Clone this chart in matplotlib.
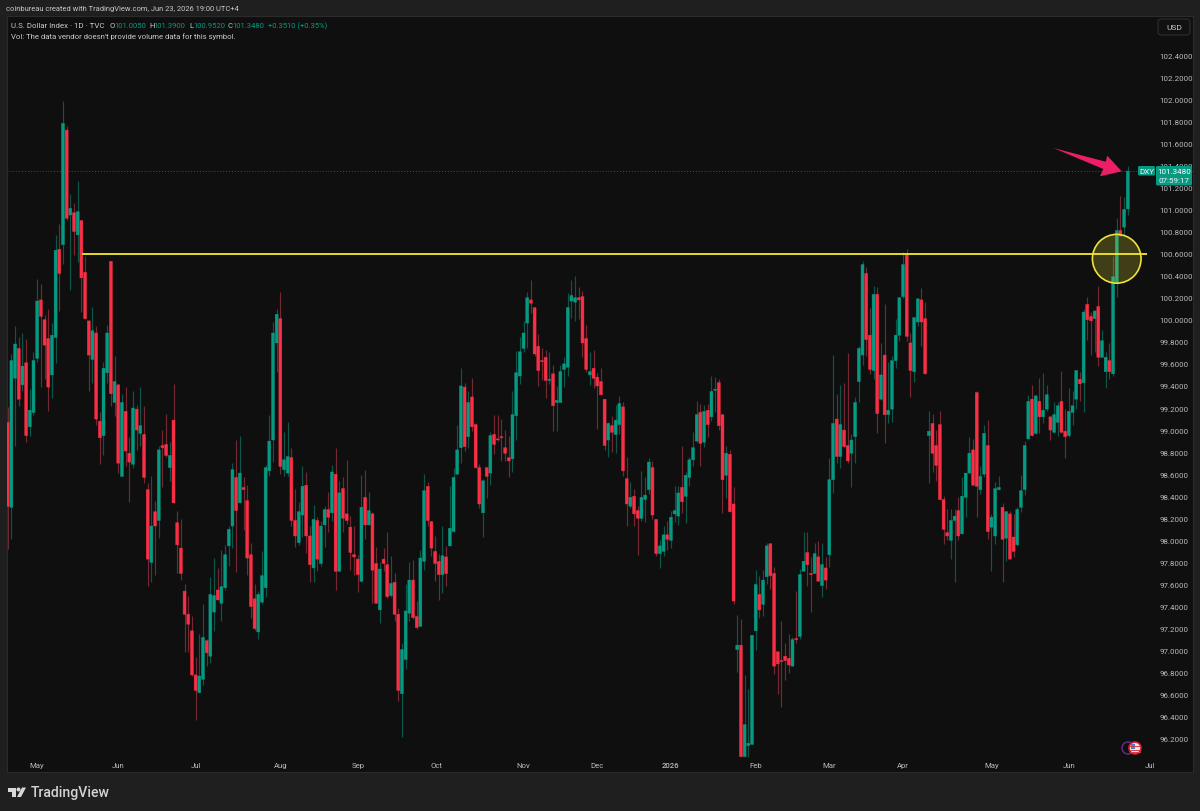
import numpy as np
import matplotlib.pyplot as plt
from matplotlib.patches import Circle, Ellipse, FancyBboxPatch, Polygon, Rectangle

plt.rcParams['font.family'] = ['Roboto', 'DejaVu Sans']

# daily U.S. Dollar Index candles
opens = [99.07, 98.30, 99.47, 99.74, 99.41, 99.61, 99.03, 99.16, 99.65, 100.18,
         100.00, 99.83, 99.50, 99.84, 100.64, 100.68, 101.72, 100.95, 100.97, 100.77,
         100.90, 100.43, 99.99, 99.64, 99.88, 99.08, 98.95, 99.52, 100.53, 99.25,
         99.41, 98.58, 99.17, 98.79, 98.69, 99.19, 98.97, 98.96, 98.46, 97.80,
         98.26, 98.18, 98.86, 98.87, 98.66, 99.09, 98.16, 97.93, 97.54, 97.33,
         97.18, 96.78, 96.62, 96.74, 97.09, 96.95, 97.35, 97.55, 97.43, 97.57,
         97.95, 98.13, 98.57, 98.34, 98.48, 98.36, 97.87, 97.47, 97.17, 97.44,
         97.57, 98.63, 98.91, 99.79, 100.01, 98.64, 98.61, 98.75, 98.18, 97.98,
         98.23, 98.50, 98.04, 97.75, 98.18, 97.79, 98.14, 98.28, 98.25, 98.60,
         97.72, 98.47, 98.24, 98.12, 97.87, 97.83, 97.63, 98.39, 98.14, 98.24,
         97.79, 97.37, 97.83, 97.78, 97.50, 97.62, 97.33, 96.61, 96.92, 97.34,
         97.64, 97.31, 97.22, 97.81, 98.49, 98.17, 97.90, 97.81, 97.69, 97.85,
         97.95, 98.08, 98.60, 98.84, 99.39, 98.94, 99.30, 99.05, 98.66, 98.25,
         98.66, 98.61, 98.96, 98.92, 98.94, 98.84, 98.75, 98.74, 99.13, 99.49,
         99.74, 99.97, 100.18, 100.11, 99.76, 99.63, 99.66, 99.45, 99.51, 99.25,
         99.25, 99.55, 99.57, 100.17, 100.16, 100.20, 100.21, 99.83, 99.50, 99.56,
         99.48, 99.44, 99.28, 98.91, 99.04, 98.96, 99.05, 99.21, 98.56, 98.31,
         98.40, 98.27, 98.20, 98.37, 98.46, 98.66, 98.19, 97.88, 97.90, 98.05,
         98.00, 98.24, 98.22, 98.48, 98.40, 98.57, 98.73, 98.90, 99.16, 98.89,
         99.18, 99.12, 99.36, 99.43, 99.14, 98.59, 98.78, 98.33, 97.01, 97.05,
         96.04, 96.14, 96.15, 97.18, 97.51, 97.42, 97.67, 97.97, 97.70, 96.99,
         96.91, 96.95, 96.93, 96.86, 97.11, 97.13, 97.72, 97.89, 97.70, 97.70,
         97.85, 97.59, 97.75, 97.87, 98.55, 99.10, 98.76, 99.00, 98.86, 98.79,
         98.94, 99.44, 99.68, 100.42, 99.86, 99.54, 100.23, 99.28, 99.68, 99.14,
         99.19, 99.63, 99.86, 100.21, 100.59, 99.79, 99.53, 99.98, 100.18, 100.01,
         98.95, 99.06, 98.86, 99.05, 98.37, 98.07, 98.00, 98.18, 98.27, 98.06,
         98.39, 98.61, 98.82, 99.34, 98.46, 98.60, 98.86, 98.12, 98.04, 98.46,
         98.30, 98.02, 98.24, 98.03, 97.96, 98.30, 98.46, 98.92, 99.28, 98.97,
         99.26, 99.12, 99.19, 99.12, 98.98, 99.07, 99.26, 98.99, 98.95, 99.16,
         99.28, 99.46, 99.43, 100.14, 100.03, 100.01, 100.12, 99.66, 99.53, 99.63,
         99.51, 100.33, 100.81, 100.84, 101.005]
closes = [98.31, 99.63, 99.78, 99.28, 99.58, 98.95, 99.18, 99.63, 100.17, 100.03,
          99.77, 99.39, 99.86, 100.63, 100.42, 101.78, 100.92, 101.01, 100.80, 100.98,
          100.38, 100.01, 99.68, 99.90, 99.10, 98.93, 99.56, 99.88, 99.33, 99.44,
          98.70, 99.25, 98.81, 98.71, 99.20, 99.00, 99.04, 98.57, 97.83, 98.13,
          98.13, 98.82, 98.84, 98.77, 98.77, 98.34, 97.96, 97.70, 97.33, 97.24,
          96.78, 96.64, 96.77, 97.12, 96.98, 97.51, 97.50, 97.46, 97.58, 97.87,
          98.10, 98.64, 98.27, 98.61, 98.46, 97.84, 97.40, 97.20, 97.51, 97.68,
          98.66, 98.90, 99.88, 100.05, 98.67, 98.73, 98.76, 98.18, 98.04, 98.26,
          98.49, 98.04, 97.78, 98.19, 97.83, 98.13, 98.28, 98.21, 98.62, 97.72,
          98.43, 98.20, 98.18, 97.89, 97.85, 97.69, 98.30, 98.14, 98.27, 97.73,
          97.43, 97.74, 97.79, 97.49, 97.61, 97.33, 96.64, 97.01, 97.36, 97.64,
          97.30, 97.21, 97.84, 98.45, 98.18, 97.93, 97.79, 97.69, 97.86, 97.70,
          98.11, 98.57, 98.82, 99.40, 98.85, 99.25, 99.03, 98.66, 98.33, 98.54,
          98.58, 98.95, 98.87, 98.91, 98.93, 98.79, 98.72, 99.14, 99.52, 99.71,
          99.88, 100.20, 100.15, 99.69, 99.54, 99.62, 99.45, 99.46, 99.22, 99.27,
          99.53, 99.60, 100.11, 100.22, 100.20, 100.18, 99.79, 99.55, 99.53, 99.47,
          99.40, 99.32, 98.86, 99.06, 98.98, 99.09, 99.24, 98.63, 98.33, 98.39,
          98.24, 98.20, 98.39, 98.41, 98.71, 98.23, 97.88, 97.95, 98.05, 98.01,
          98.21, 98.27, 98.43, 98.35, 98.59, 98.73, 98.84, 99.14, 98.88, 99.17,
          99.05, 99.35, 99.37, 99.04, 98.55, 98.79, 98.26, 97.45, 97.05, 96.04,
          96.33, 96.16, 97.14, 97.60, 97.37, 97.64, 97.95, 97.68, 96.86, 96.88,
          96.90, 96.91, 96.87, 97.10, 97.10, 97.69, 97.81, 97.78, 97.69, 97.88,
          97.63, 97.78, 97.64, 98.55, 99.06, 98.76, 99.05, 98.85, 98.72, 98.91,
          99.25, 99.74, 100.50, 99.82, 99.55, 100.23, 99.15, 99.50, 99.14, 99.18,
          99.63, 99.86, 100.20, 100.50, 99.85, 99.54, 100.02, 100.19, 99.98, 99.51,
          98.99, 98.79, 98.68, 98.37, 98.10, 98.04, 98.18, 98.22, 98.04, 98.40,
          98.61, 98.79, 98.50, 98.49, 98.58, 98.97, 98.08, 98.21, 98.47, 98.48,
          98.01, 98.26, 97.83, 97.90, 98.28, 98.45, 98.86, 99.26, 98.95, 99.31,
          99.12, 99.18, 99.32, 99.00, 99.14, 99.22, 98.98, 98.94, 99.17, 99.22,
          99.54, 99.42, 100.07, 100.00, 99.99, 100.08, 99.66, 99.81, 99.66, 99.53,
          100.39, 100.81, 100.76, 101.00, 101.348]
highs = [99.21, 99.69, 99.94, 99.84, 99.88, 99.83, 99.37, 99.71, 100.37, 100.32,
         100.04, 100.10, 99.97, 100.77, 100.87, 101.98, 101.76, 101.14, 101.06, 101.26,
         100.90, 100.58, 99.99, 100.12, 99.94, 99.16, 99.62, 99.95, 100.53, 99.67,
         99.42, 99.33, 99.39, 98.94, 99.35, 99.23, 99.39, 99.22, 98.52, 98.58,
         98.36, 98.86, 99.00, 99.15, 98.89, 99.42, 98.27, 98.19, 97.60, 97.50,
         97.31, 96.94, 97.15, 97.42, 97.11, 97.67, 97.84, 97.75, 97.91, 97.96,
         98.13, 98.70, 98.91, 98.95, 98.57, 98.50, 97.98, 97.60, 97.54, 97.90,
         98.68, 99.14, 99.98, 100.10, 100.25, 98.98, 99.07, 98.84, 98.47, 98.35,
         98.67, 98.62, 98.13, 98.32, 98.21, 98.18, 98.31, 98.44, 98.68, 98.84,
         98.54, 98.57, 98.73, 98.22, 98.13, 97.87, 98.59, 98.64, 98.44, 98.26,
         97.94, 97.80, 97.93, 98.08, 97.86, 97.70, 97.39, 97.07, 97.60, 97.80,
         97.82, 97.45, 97.91, 98.60, 98.53, 98.18, 98.04, 97.88, 98.13, 97.95,
         98.49, 98.66, 99.05, 99.56, 99.43, 99.35, 99.47, 99.06, 98.69, 98.56,
         98.66, 98.98, 99.14, 99.14, 99.10, 99.00, 98.95, 99.35, 99.72, 99.84,
         99.99, 100.25, 100.36, 100.11, 99.87, 99.74, 99.73, 99.71, 99.59, 99.40,
         99.59, 99.66, 100.24, 100.36, 100.40, 100.30, 100.26, 99.95, 99.71, 99.73,
         99.52, 99.56, 99.28, 99.07, 99.13, 99.23, 99.31, 99.25, 98.76, 98.53,
         98.47, 98.31, 98.63, 98.57, 98.75, 98.72, 98.19, 98.00, 98.13, 98.18,
         98.27, 98.49, 98.49, 98.86, 98.62, 98.76, 98.98, 99.26, 99.24, 99.23,
         99.24, 99.49, 99.48, 99.46, 99.14, 98.86, 98.82, 98.48, 97.32, 97.29,
         96.78, 96.65, 97.14, 97.73, 97.68, 97.73, 97.98, 97.97, 97.76, 96.99,
         97.27, 97.07, 97.15, 97.12, 97.54, 97.74, 98.08, 98.08, 97.85, 97.98,
         97.99, 97.98, 97.85, 98.75, 99.68, 99.33, 99.41, 99.43, 99.70, 98.96,
         99.30, 99.76, 100.53, 100.48, 100.11, 100.31, 100.30, 99.79, 100.14, 99.62,
         99.67, 100.01, 100.21, 100.61, 100.64, 99.88, 100.02, 100.19, 100.29, 100.16,
         99.17, 99.15, 99.00, 99.17, 98.40, 98.28, 98.28, 98.28, 98.39, 98.57,
         98.61, 98.94, 98.92, 99.35, 98.67, 99.05, 99.09, 98.24, 98.53, 98.58,
         98.34, 98.27, 98.27, 98.24, 98.30, 98.59, 98.90, 99.32, 99.41, 99.32,
         99.47, 99.52, 99.41, 99.12, 99.25, 99.25, 99.54, 99.19, 99.38, 99.35,
         99.54, 99.53, 100.10, 100.21, 100.07, 100.08, 100.31, 99.91, 99.71, 99.79,
         100.58, 100.92, 101.12, 101.11, 101.39]
lows = [97.92, 98.01, 98.86, 99.22, 99.35, 98.89, 98.95, 99.14, 99.62, 99.39,
        99.46, 99.17, 99.29, 99.61, 100.08, 100.51, 100.90, 100.27, 100.59, 100.52,
        100.07, 100.01, 99.35, 99.43, 99.05, 98.69, 98.77, 99.43, 99.22, 99.13,
        98.61, 98.58, 98.67, 98.35, 98.66, 98.82, 98.86, 98.52, 97.59, 97.62,
        97.69, 98.02, 98.48, 98.76, 98.54, 98.34, 97.70, 97.64, 96.99, 96.99,
        96.77, 96.37, 96.62, 96.69, 96.86, 96.89, 97.18, 97.46, 97.27, 97.55,
        97.77, 97.93, 97.71, 98.34, 98.09, 97.69, 97.30, 97.19, 97.11, 97.42,
        97.49, 98.58, 98.71, 99.53, 98.60, 98.58, 98.58, 98.13, 97.94, 97.96,
        98.03, 97.89, 97.62, 97.62, 97.72, 97.77, 97.94, 98.08, 98.18, 97.55,
        97.72, 98.08, 98.15, 97.73, 97.69, 97.53, 97.62, 98.01, 98.14, 97.43,
        97.43, 97.25, 97.72, 97.48, 97.49, 97.27, 96.54, 96.22, 96.83, 97.27,
        97.29, 97.20, 97.22, 97.73, 98.13, 97.86, 97.63, 97.46, 97.52, 97.59,
        97.95, 98.08, 98.60, 98.70, 98.81, 98.84, 98.99, 98.66, 98.29, 98.03,
        98.38, 98.50, 98.78, 98.90, 98.72, 98.72, 98.57, 98.62, 98.91, 99.42,
        99.71, 99.74, 100.06, 99.67, 99.40, 99.45, 99.29, 99.42, 98.99, 98.99,
        99.25, 99.39, 99.49, 100.02, 99.99, 100.01, 99.66, 99.53, 99.41, 99.38,
        99.01, 99.32, 98.82, 98.76, 98.80, 98.79, 98.96, 98.58, 98.13, 98.29,
        98.13, 97.87, 98.18, 98.17, 98.42, 98.19, 97.86, 97.75, 97.86, 97.91,
        97.93, 98.17, 98.14, 98.25, 98.16, 98.49, 98.67, 98.89, 98.67, 98.85,
        98.94, 99.08, 99.16, 99.00, 98.25, 98.38, 98.26, 97.42, 96.81, 96.04,
        96.04, 96.04, 96.15, 97.01, 97.30, 97.31, 97.60, 97.56, 96.79, 96.61,
        96.49, 96.73, 96.80, 96.86, 97.07, 97.11, 97.72, 97.59, 97.35, 97.70,
        97.63, 97.49, 97.56, 97.76, 98.43, 98.70, 98.66, 98.85, 98.70, 98.48,
        98.70, 99.25, 99.59, 99.67, 99.51, 99.46, 98.97, 99.27, 98.88, 99.06,
        99.07, 99.56, 99.81, 100.20, 99.81, 99.30, 99.44, 99.94, 99.76, 99.51,
        98.52, 98.62, 98.54, 98.37, 97.97, 98.00, 97.83, 97.62, 98.00, 98.06,
        98.21, 98.61, 98.50, 98.21, 98.42, 98.57, 98.01, 97.72, 97.97, 98.46,
        97.62, 97.81, 97.83, 97.85, 97.95, 98.26, 98.41, 98.92, 98.95, 98.96,
        98.97, 99.06, 99.17, 98.91, 98.97, 98.95, 98.97, 98.75, 98.94, 99.05,
        99.19, 99.26, 99.16, 99.82, 99.68, 99.71, 99.58, 99.66, 99.38, 99.46,
        99.49, 100.21, 100.76, 100.76, 100.952]

price_ticks = [96.2, 96.4, 96.6, 96.8, 97.0, 97.2, 97.4, 97.6, 97.8, 98.0, 98.2, 98.4, 98.6,
               98.8, 99.0, 99.2, 99.4, 99.6, 99.8, 100.0, 100.2, 100.4, 100.6, 100.8,
               101.0, 101.2, 101.4, 101.6, 101.8, 102.0, 102.2, 102.4]
month_bars = [8, 30, 51, 74, 95, 116.5, 140, 160, 180, 203, 223, 243, 267, 288, 310]
month_labels = ['May', 'Jun', 'Jul', 'Aug', 'Sep', 'Oct', 'Nov', 'Dec', '2026',
                'Feb', 'Mar', 'Apr', 'May', 'Jun', 'Jul']
level = 100.60

BG = '#0f0f0f'
FRAME = '#1f1f1f'
UP = '#079a82'
DOWN = '#f92f45'
UP_WICK = '#0b5549'
DOWN_WICK = '#752832'
TEXT = '#b8bac0'
HEAD = '#c8c9cc'

opens, closes, highs, lows = map(np.array, (opens, closes, highs, lows))
x = np.arange(len(opens))
up = closes >= opens

fig = plt.figure(figsize=(12, 8.12), dpi=100, facecolor=FRAME)
ax = fig.add_axes([7 / 1200, 1 - 773 / 812, 1186 / 1200, 756 / 812], facecolor=BG)
ax.set_xlim(-0.19, 321.7)
ax.set_ylim(95.90, 102.754)
for s in ax.spines.values():
    s.set_color('#2b2b2b')
    s.set_linewidth(0.8)

ax.vlines(x[up], lows[up], highs[up], color=UP_WICK, lw=0.85, zorder=2)
ax.vlines(x[~up], lows[~up], highs[~up], color=DOWN_WICK, lw=0.85, zorder=2)
bars_up = ax.bar(x[up], (closes - opens)[up], bottom=opens[up], width=0.8, color=UP,
                 edgecolor=UP, linewidth=0.3, zorder=3)
bars_dn = ax.bar(x[~up], (opens - closes)[~up], bottom=closes[~up], width=0.8, color=DOWN,
                 edgecolor=DOWN, linewidth=0.3, zorder=3)
for b in list(bars_up) + list(bars_dn):
    b.set_snap(False)

# last price and the horizontal level
ax.axhline(closes[-1], color='#0e6b5c', lw=0.7, ls=(0, (1, 2)), zorder=1)
ax.plot([20.16, 309.2], [level, level], color='#f7ea2a', lw=1.3, zorder=4,
        solid_capstyle='butt')

# highlighted breakout circle
ax.add_patch(Ellipse((301.0, 100.553), 13.2, 0.4425, facecolor=(0.95, 0.9, 0.2, 0.22),
                     edgecolor='#eee23a', lw=1.2, zorder=5))

ax.yaxis.tick_right()
ax.set_yticks(price_ticks)
ax.set_yticklabels([f'{p:.4f}' for p in price_ticks], fontsize=5.7, color=TEXT)
ax.tick_params(axis='y', length=0, pad=-24)
ax.set_xticks(month_bars)
ax.set_xticklabels(month_labels, fontsize=5.6, color=TEXT)
ax.tick_params(axis='x', length=0, pad=-7)
for lab in ax.get_xticklabels():
    if lab.get_text() == '2026':
        lab.set_fontweight('medium')

# header, price tags, logo go on a pixel overlay
ov = fig.add_axes([0, 0, 1, 1], facecolor='none')
ov.set_xlim(0, 1200)
ov.set_ylim(812, 0)
ov.axis('off')

ov.text(6, 9.5, 'coinbureau created with TradingView.com, Jun 23, 2026 19:00 UTC+4',
        fontsize=5.45, color=HEAD, va='center')
hdr_y = 26
ov.text(11, hdr_y, 'U.S. Dollar Index · 1D · TVC', fontsize=5.65, color=HEAD, va='center')
parts = [(110, 'O', '101.0050'), (149, 'H', '101.3900'), (189, 'L', '100.9520'), (228, 'C', '101.3480')]
for px, k, v in parts:
    ov.text(px, hdr_y, k, fontsize=5.5, color=HEAD, va='center')
    ov.text(px + 4.5, hdr_y, v, fontsize=5.5, color=UP, va='center')
ov.text(268, hdr_y, '+0.3510 (+0.35%)', fontsize=5.5, color=UP, va='center')
ov.text(11, 37, "Vol: The data vendor doesn't provide volume data for this symbol.",
        fontsize=5.55, color=HEAD, va='center')

# currency button
ov.add_patch(FancyBboxPatch((1158, 20), 32, 16, boxstyle='round,pad=0,rounding_size=3',
                            facecolor='#111111', edgecolor='#2e2e2e', lw=0.8))
ov.text(1174, 27.5, 'USD', fontsize=6, color=HEAD, ha='center', va='center')

# last price tag
ov.add_patch(FancyBboxPatch((1138, 167), 17, 9.5, boxstyle='round,pad=0,rounding_size=1.5',
                            facecolor=UP, edgecolor='none', zorder=6))
ov.text(1146.5, 172, 'DXY', fontsize=5.8, color='#e8f5f2', ha='center', va='center', zorder=7)
ov.add_patch(FancyBboxPatch((1156, 167), 36, 19.5, boxstyle='round,pad=0,rounding_size=1.5',
                            facecolor=UP, edgecolor='none', zorder=6))
ov.text(1174, 172, f'{closes[-1]:.4f}', fontsize=5.8, color='#ffffff', ha='center',
        va='center', zorder=7)
ov.text(1174, 181, '07:59:17', fontsize=5.8, color='#e8f5f2', ha='center', va='center', zorder=7)

# pink arrow pointing at the last candle
ov.add_patch(Polygon([(1053.3, 149), (1105.7, 162.7), (1107.3, 156.7), (1121.7, 172.3),
                      (1100, 177.3), (1103.3, 170)],
                     closed=True, facecolor='#ec1e68', edgecolor='none', zorder=5))

# country / event marker at the bottom right
ov.add_patch(Circle((1128, 749), 6, facecolor=BG, edgecolor='#6a2c91', lw=1))
ov.add_patch(Circle((1135, 749), 6, facecolor='#e7e7e7', edgecolor='#c8202c', lw=1.2, zorder=3))
ov.add_patch(Rectangle((1130.5, 745), 4.5, 4.5, facecolor='#3f80d8', edgecolor='none', zorder=4))
for yy in (747, 750.5, 753):
    ov.plot([1130, 1140], [yy, yy], color='#d8404a', lw=0.7, zorder=4)

# TradingView wordmark
ov.add_patch(Polygon([(8, 788.5), (16, 788.5), (16, 798), (12, 798), (12, 792.5), (8, 792.5)],
                     closed=True, facecolor='#d8d8d8', edgecolor='none'))
ov.add_patch(Circle((18.5, 790.5), 2, facecolor='#d8d8d8', edgecolor='none'))
ov.add_patch(Polygon([(22, 788.5), (26, 788.5), (21, 798), (17, 798)],
                     closed=True, facecolor='#d8d8d8', edgecolor='none'))
ov.text(31, 793.5, 'TradingView', fontsize=10.1, color='#d4d4d4', va='center', fontweight='medium')

fig.savefig('out.png', dpi=100, facecolor=FRAME)
